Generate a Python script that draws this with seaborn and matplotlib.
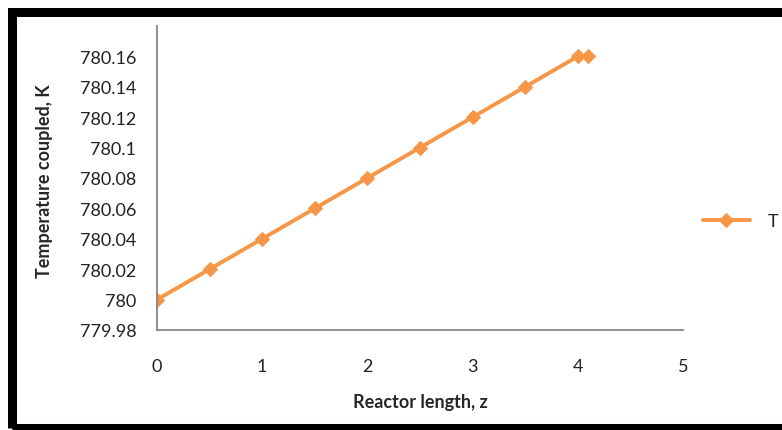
import seaborn as sns
import matplotlib.pyplot as plt
from matplotlib.patches import Rectangle

# reactor length (z) and coupled temperature (K)
z = [0, 0.5, 1, 1.5, 2, 2.5, 3, 3.5, 4, 4.1]
temp = [780.00, 780.02, 780.04, 780.06, 780.08, 780.10, 780.12, 780.14, 780.16, 780.16]
y_ticks = [779.98, 780, 780.02, 780.04, 780.06, 780.08, 780.1, 780.12, 780.14, 780.16]
y_tick_labels = ["779.98", "780", "780.02", "780.04", "780.06", "780.08",
                 "780.1", "780.12", "780.14", "780.16"]
x_ticks = [0, 1, 2, 3, 4, 5]

sns.set_style("white")
plt.rcParams['font.family'] = ['Lato', 'DejaVu Sans']

fig = plt.figure(figsize=(7.82, 4.31), dpi=100)
ax = fig.add_axes([157/782, 1 - 331/431, (683 - 157)/782, (331 - 27)/431])

orange = "#F79646"
sns.lineplot(x=z, y=temp, ax=ax, color=orange, linewidth=2.8, marker="D",
             markersize=7, markeredgecolor=orange, label="T", legend=False)

ax.set_xlim(0, 5)
ax.set_ylim(779.98, 780.18)
ax.set_xticks(x_ticks)
ax.set_xticklabels([str(t) for t in x_ticks])
ax.set_yticks(y_ticks)
ax.set_yticklabels(y_tick_labels)
ax.tick_params(axis="both", length=0, labelsize=13, colors="#222222")
ax.tick_params(axis="x", pad=20)
ax.tick_params(axis="y", pad=15)

for side in ["top", "right"]:
    ax.spines[side].set_visible(False)
for side in ["left", "bottom"]:
    ax.spines[side].set_color("#868686")
    ax.spines[side].set_linewidth(1.3)

fig.text(420/782, 1 - 403/431, "Reactor length, z", ha="center", va="center",
         fontsize=13, fontweight="bold")
fig.text(45/782, 1 - 181/431, "Temperature coupled, K", ha="center", va="center",
         rotation=90, fontsize=13, fontweight="bold")

handles, labels = ax.get_legend_handles_labels()
fig.legend(handles, labels, loc="center left", bbox_to_anchor=(703/782, 1 - 222/431),
           frameon=False, borderpad=0, borderaxespad=0, handlelength=2.6,
           handletextpad=1.0, fontsize=13)

# thick black frame around the chart (right side runs off the image)
fig.patches.append(Rectangle((12/782, 1 - 429/431), 1.1, (429 - 12.5)/431,
                             transform=fig.transFigure, fill=False,
                             edgecolor="black", linewidth=6.5))

fig.savefig("out.png", dpi=100)
